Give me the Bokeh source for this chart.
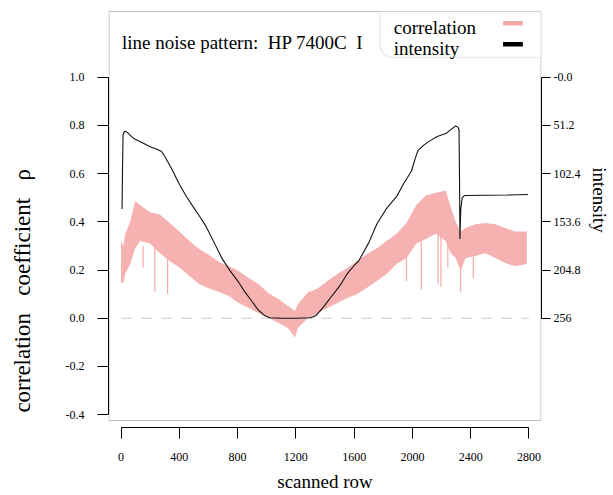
import math
from bokeh.plotting import figure
from bokeh.models import (Range1d, LinearAxis, FixedTicker, CustomJSTickFormatter,
                          Label, BoxAnnotation)
from bokeh.embed import file_html
from bokeh.resources import INLINE

# ---------------- data ----------------
x_ticks = [0, 400, 800, 1200, 1600, 2000, 2400, 2800]
corr_ticks = [-0.4, -0.2, 0.0, 0.2, 0.4, 0.6, 0.8, 1.0]
intensity_ticks = [0, 51.2, 102.4, 153.6, 204.8, 256]

intensity_row = [7, 10, 14, 22, 29, 45, 70, 97, 150, 200, 250, 278, 300, 350, 401,
                 450, 492, 540, 582, 640, 695, 750, 808, 850, 898, 940, 988, 1020,
                 1100, 1200, 1300, 1336, 1390, 1439, 1500, 1552, 1600, 1632, 1700,
                 1756, 1820, 1891, 1940, 1993, 2020, 2038, 2080, 2116, 2170, 2229,
                 2270, 2297, 2312, 2320, 2324, 2326, 2332, 2342, 2355, 2365, 2500,
                 2650, 2793]
intensity_val = [140, 100, 61, 58, 57.5, 59, 63, 66, 70, 74, 77, 79, 84, 98, 114,
                 127, 137, 148, 158, 176, 193, 206, 218, 228, 238, 247, 253.4, 255.5,
                 256, 256, 255.5, 253.4, 244, 234, 222, 209, 200, 195, 176,
                 156, 140, 127, 113, 100, 86, 78, 72, 68, 63, 60,
                 55, 52, 53, 56, 120, 172, 140, 128, 126, 125.7, 125.5,
                 125.2, 124.7]

corr_row = [0, 16, 29, 63, 97, 131, 198, 266, 334, 401, 469, 537, 605, 672, 740,
            808, 875, 943, 1011, 1079, 1146, 1194, 1214, 1282, 1350, 1417, 1485,
            1553, 1620, 1688, 1756, 1823, 1891, 1959, 2027, 2094, 2162, 2229, 2263,
            2297, 2331, 2365, 2432, 2500, 2568, 2636, 2703, 2785]
corr_upper = [0.32, 0.30, 0.35, 0.40, 0.486, 0.47, 0.44, 0.43, 0.395, 0.36, 0.32,
              0.287, 0.262, 0.233, 0.216, 0.196, 0.167, 0.142, 0.105, 0.08, 0.051,
              0.03, 0.059, 0.107, 0.123, 0.154, 0.183, 0.208, 0.237, 0.266, 0.29,
              0.32, 0.35, 0.395, 0.47, 0.51, 0.52, 0.53, 0.46, 0.40, 0.36, 0.374,
              0.39, 0.395, 0.39, 0.374, 0.36, 0.36]
corr_lower = [0.147, 0.146, 0.183, 0.225, 0.29, 0.32, 0.31, 0.27, 0.237, 0.21, 0.175,
              0.142, 0.123, 0.109, 0.092, 0.063, 0.043, 0.022, 0.001, -0.019, -0.04,
              -0.08, -0.04, 0.0, 0.02, 0.043, 0.063, 0.084, 0.10, 0.126, 0.154,
              0.183, 0.225, 0.25, 0.31, 0.33, 0.35, 0.32, 0.27, 0.25, 0.196, 0.25,
              0.258, 0.27, 0.25, 0.229, 0.216, 0.225]

spike_row = [151, 232, 320, 1959, 2061, 2176, 2196, 2243, 2331, 2418]
spike_top = [0.30, 0.31, 0.26, 0.26, 0.32, 0.36, 0.36, 0.33, 0.21, 0.26]
spike_min = [0.21, 0.11, 0.10, 0.154, 0.12, 0.14, 0.13, 0.21, 0.11, 0.167]

NB = "\u00a0"
title_text = "line noise pattern:" + NB + " HP 7400C" + NB + " I"
legend_labels = ["correlation", "intensity"]
# axis titles; trailing no-break spaces shift the visible words off-centre
ylabel_text = "correlation" + NB * 2 + " coefficient" + NB * 2 + " ρ" + NB * 25
rlabel_text = "intensity" + NB * 8
xlabel_text = "scanned row"

# ---------------- styling ----------------
FONT = "Liberation Serif"
PINK = "#F5AAAA"
GREY = "#BEBEBE"

X0, X1 = -86, 2886
Y0, Y1 = -0.453, 1.276

def to_int(c):
    return 256 * (1 - c)

p = figure(width=612, height=494, output_backend="svg", toolbar_location=None,
           x_range=Range1d(X0, X1), y_range=Range1d(Y0, Y1),
           min_border_left=108, min_border_right=65, min_border_top=10,
           min_border_bottom=67)
p.extra_y_ranges = {"int": Range1d(start=to_int(Y0), end=to_int(Y1))}
p.grid.visible = False
p.outline_line_color = None
p.background_fill_color = "white"
p.border_fill_color = "white"

# plot box
p.quad(left=X0 + 3.4, right=X1 - 3.4, bottom=-0.424, top=1.272,
       fill_color=None, line_color=GREY, line_width=1)

# correlation band + spikes
p.varea(x=corr_row, y1=corr_lower, y2=corr_upper, fill_color=PINK, fill_alpha=0.92)
p.segment(x0=spike_row, x1=spike_row, y0=spike_min, y1=spike_top,
          line_color=PINK, line_width=1.2)

# zero line
p.segment(x0=[x_ticks[0]], x1=[x_ticks[-1]], y0=[0], y1=[0],
          line_color="#CCCCCC", line_dash="11 9", line_width=1)

# intensity
p.line(intensity_row, intensity_val, y_range_name="int", line_color="#111111",
       line_width=1.1)

# axes
def style_axis(ax):
    ax.axis_line_color = "black"
    ax.major_tick_line_color = "black"
    ax.minor_tick_line_color = None
    ax.major_tick_in = 0
    ax.major_label_text_font = FONT
    ax.major_label_text_font_size = "12px"
    ax.major_label_text_color = "black"
    ax.axis_label_text_font = FONT
    ax.axis_label_text_font_size = "19px"
    ax.axis_label_text_font_style = "normal"
    ax.axis_label_text_color = "black"

xa = p.xaxis[0]
style_axis(xa)
xa.ticker = FixedTicker(ticks=x_ticks)
xa.bounds = (x_ticks[0], x_ticks[-1])
xa.major_tick_out = 11
xa.major_label_standoff = 14
xa.axis_label = xlabel_text
xa.axis_label_standoff = 7

ya = p.yaxis[0]
style_axis(ya)
ya.ticker = FixedTicker(ticks=corr_ticks)
ya.bounds = (corr_ticks[0], corr_ticks[-1])
ya.formatter = CustomJSTickFormatter(code="return tick.toFixed(1);")
ya.major_tick_out = 11
ya.major_label_standoff = 13
ya.axis_label = ylabel_text
ya.axis_label_text_font_size = "23px"
ya.axis_label_standoff = 28

ra = LinearAxis(y_range_name="int")
style_axis(ra)
ra.ticker = FixedTicker(ticks=intensity_ticks)
ra.bounds = (intensity_ticks[0], intensity_ticks[-1])
ra.formatter = CustomJSTickFormatter(
    code="return tick == 0 ? '-0.0' : String(Math.round(tick*10)/10);")
ra.major_tick_out = 9
ra.major_label_standoff = 3
ra.axis_label = rlabel_text
ra.axis_label_standoff = 5
p.add_layout(ra, "right")

# title inside plot
p.add_layout(Label(x=7, y=1.1434, text=title_text, text_font=FONT,
                   text_font_size="19px", text_color="black",
                   text_baseline="alphabetic"))

# legend box
p.add_layout(BoxAnnotation(left=1776, right=X1 - 3.4, top=1.272, bottom=1.081,
                           fill_color="white", fill_alpha=1, line_color=GREY,
                           line_width=1.5, border_radius=(0, 0, 0, 13),
                           level="annotation"))
p.add_layout(Label(x=1872, y=1.2056, text=legend_labels[0], text_font=FONT,
                   text_font_size="19px", text_color="black",
                   text_baseline="alphabetic", level="overlay"))
p.add_layout(Label(x=1872, y=1.1186, text=legend_labels[1], text_font=FONT,
                   text_font_size="19px", text_color="black",
                   text_baseline="alphabetic", level="overlay"))
p.segment(x0=[2622], x1=[2758], y0=[1.2231], y1=[1.2231], line_color=PINK,
          line_width=4.5, level="overlay")
p.segment(x0=[2622], x1=[2758], y0=[1.136], y1=[1.136], line_color="black",
          line_width=4.5, level="overlay")

open("out.html", "w").write(file_html(p, INLINE))
